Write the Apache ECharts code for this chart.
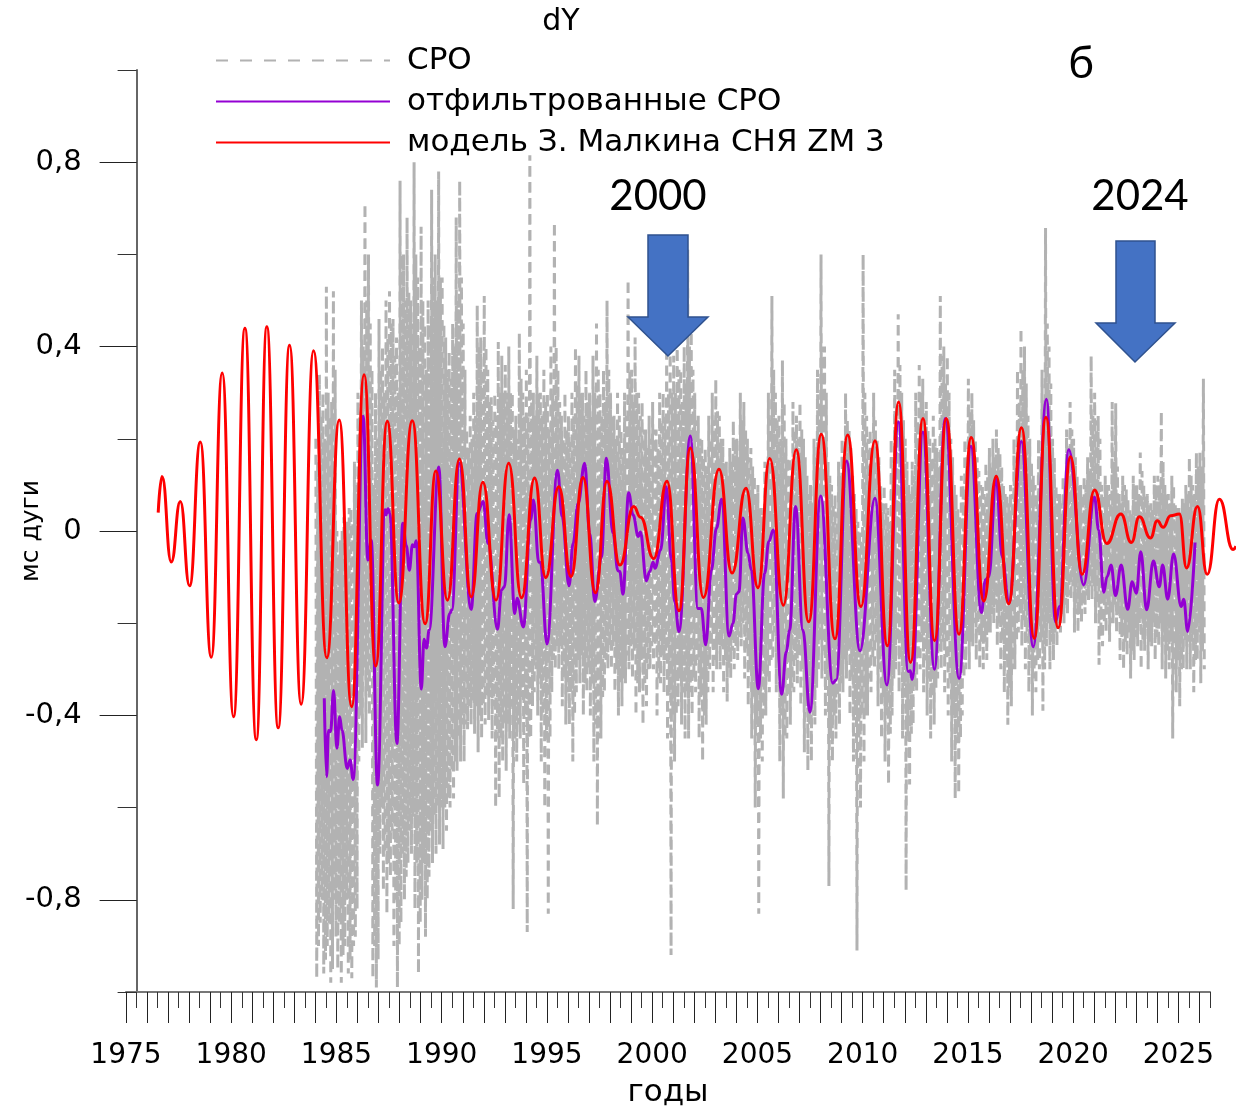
<!DOCTYPE html>
<html><head><meta charset="utf-8">
<style>html,body{margin:0;padding:0;background:#fff}#c{width:1236px;height:1107px}</style>
<script src="https://cdn.jsdelivr.net/npm/echarts@6/dist/echarts.min.js"></script>
</head><body><div id="c"></div>
<script>
const seriesNames=['СРО','отфильтрованные СРО','модель З. Малкина СНЯ ZM 3'];
const redYears=[1976.53,1976.71,1977.15,1977.58,1978.02,1978.53,1979.05,1979.57,1980.11,1980.65,1981.19,1981.69,1982.23,1982.77,1983.32,1983.91,1984.54,1985.13,1985.72,1986.31,1986.86,1987.41,1987.96,1988.60,1989.21,1989.72,1990.27,1990.84,1991.40,1991.95,1992.58,1993.18,1993.79,1994.41,1994.94,1995.56,1996.14,1996.71,1997.30,1997.85,1998.46,1999.12,1999.44,2000.07,2000.70,2001.27,2001.81,2002.43,2003.17,2003.79,2004.45,2005.02,2005.58,2006.23,2006.84,2007.43,2008.03,2008.68,2009.28,2009.91,2010.58,2011.17,2011.70,2012.27,2012.86,2013.41,2013.97,2014.57,2015.15,2015.75,2016.34,2016.93,2017.54,2018.15,2018.70,2019.28,2019.87,2020.42,2021.01,2021.59,2022.26,2022.76,2023.14,2023.67,2023.99,2024.27,2024.62,2025.04,2025.38,2025.90,2026.36,2026.94,2027.59,2027.73];
const redValues=[0.040,0.118,-0.067,0.064,-0.119,0.193,-0.274,0.343,-0.403,0.440,-0.453,0.443,-0.427,0.403,-0.376,0.391,-0.275,0.241,-0.381,0.339,-0.293,0.238,-0.156,0.239,-0.201,0.130,-0.150,0.156,-0.143,0.106,-0.150,0.147,-0.145,0.115,-0.101,0.096,-0.099,0.116,-0.134,0.108,-0.074,0.053,0.030,-0.060,0.108,-0.173,0.180,-0.144,0.134,-0.091,0.093,-0.123,0.157,-0.161,0.176,-0.197,0.210,-0.234,0.208,-0.164,0.196,-0.249,0.280,-0.285,0.244,-0.238,0.244,-0.224,0.203,-0.152,0.119,-0.158,0.224,-0.233,0.247,-0.210,0.161,-0.094,0.089,-0.027,0.037,-0.025,0.031,-0.015,0.022,0.008,0.033,0.037,-0.080,0.053,-0.094,0.069,-0.040,-0.033];
const purpleYears=[1984.42,1984.53,1984.62,1984.72,1984.86,1985.02,1985.15,1985.26,1985.51,1985.65,1985.79,1986.27,1986.49,1986.65,1986.95,1987.31,1987.35,1987.45,1987.54,1987.87,1988.15,1988.32,1988.46,1988.61,1988.70,1988.79,1989.03,1989.16,1989.28,1989.40,1989.86,1990.15,1990.38,1990.48,1990.83,1991.40,1991.68,1991.97,1992.20,1992.65,1992.84,1992.98,1993.20,1993.47,1993.58,1993.88,1994.22,1994.36,1994.61,1994.69,1995.00,1995.50,1995.72,1996.05,1996.24,1996.48,1996.79,1997.03,1997.27,1997.59,1997.82,1998.14,1998.37,1998.46,1998.61,1998.88,1999.09,1999.34,1999.44,1999.72,1999.88,2000.04,2000.13,2000.40,2000.67,2000.91,2001.07,2001.27,2001.81,2002.17,2002.33,2002.54,2002.81,2003.05,2003.30,2003.65,2003.84,2004.00,2004.12,2004.31,2004.55,2004.71,2005.04,2005.34,2005.54,2005.75,2006.15,2006.37,2006.53,2006.81,2007.16,2007.49,2008.00,2008.58,2008.74,2009.23,2009.87,2010.58,2011.15,2011.70,2012.16,2012.26,2012.35,2012.86,2013.41,2013.92,2014.58,2015.14,2015.64,2015.83,2015.99,2016.34,2016.63,2016.94,2017.54,2018.10,2018.73,2019.16,2019.35,2019.79,2020.50,2021.01,2021.21,2021.45,2021.61,2021.80,2022.01,2022.28,2022.59,2022.80,2023.00,2023.21,2023.49,2023.81,2024.09,2024.25,2024.49,2024.77,2025.13,2025.25,2025.44,2025.79];
const purpleValues=[-0.363,-0.533,-0.433,-0.435,-0.346,-0.471,-0.403,-0.432,-0.515,-0.497,-0.539,0.249,-0.063,-0.020,-0.551,0.046,0.035,0.048,0.038,-0.461,0.017,-0.032,-0.085,-0.030,-0.034,-0.021,-0.343,-0.235,-0.254,-0.215,0.139,-0.251,-0.179,-0.171,0.147,-0.170,0.038,0.064,-0.027,-0.213,-0.128,-0.121,0.035,-0.179,-0.146,-0.208,0.024,0.067,-0.068,-0.068,-0.245,0.132,0.031,-0.119,-0.027,0.060,0.147,-0.005,-0.153,-0.056,0.158,-0.005,-0.086,-0.088,-0.137,0.083,0.035,-0.012,-0.002,-0.108,-0.088,-0.068,-0.081,-0.041,0.096,-0.063,-0.153,-0.218,0.206,-0.168,-0.168,-0.247,-0.085,0.006,0.069,-0.228,-0.200,-0.137,-0.132,0.028,-0.048,-0.085,-0.342,-0.092,-0.023,0.002,-0.354,-0.262,-0.215,0.053,-0.215,-0.393,0.076,-0.330,-0.323,0.152,-0.260,0.071,-0.334,0.237,-0.305,-0.303,-0.322,0.215,-0.300,0.244,-0.320,0.184,-0.177,-0.106,-0.099,0.114,-0.056,-0.157,0.194,-0.251,0.286,-0.197,-0.164,0.176,-0.117,0.074,0.002,-0.133,-0.099,-0.074,-0.140,-0.074,-0.170,-0.110,-0.135,-0.045,-0.171,-0.065,-0.121,-0.074,-0.148,-0.050,-0.164,-0.148,-0.218,-0.025];
const cpoStart=1984.02;
const cpoSamplesPerYear=24;
const cpoOuter=[
0.2,-0.97,0.34,-0.85,0.3,-0.96,0.53,-0.9,0.25,-0.98,0.52,-0.8,
0.0,-0.95,-0.02,-0.98,0.03,-0.9,0.02,-0.96,0.05,-0.97,0.15,-0.88,
0.3,-0.5,0.5,-0.47,0.71,-0.46,0.6,-0.4,0.35,-0.97,0.3,-0.99,
0.46,-0.7,0.4,-0.78,0.5,-0.83,0.52,-0.75,0.46,-0.9,0.42,-0.99,
0.76,-0.85,0.6,-0.8,0.68,-0.72,0.5,-0.7,0.8,-0.82,0.55,-0.96,
0.66,-0.8,0.45,-0.88,0.5,-0.75,0.74,-0.72,0.6,-0.7,0.78,-0.68,
0.55,-0.69,0.42,-0.65,0.39,-0.6,0.45,-0.58,0.68,-0.52,0.76,-0.5,
0.45,-0.5,0.22,-0.43,0.25,-0.42,0.3,-0.44,0.49,-0.48,0.42,-0.45,
0.51,-0.42,0.35,-0.41,0.29,-0.45,0.3,-0.6,0.41,-0.58,0.38,-0.5,
0.36,-0.52,0.4,-0.45,0.3,-0.82,0.25,-0.5,0.43,-0.45,0.3,-0.55,
0.35,-0.87,0.815,-0.45,0.3,-0.35,0.38,-0.4,0.3,-0.5,0.35,-0.6,
0.3,-0.83,0.4,-0.35,0.67,-0.3,0.35,-0.3,0.25,-0.38,0.3,-0.42,
0.25,-0.42,0.3,-0.5,0.4,-0.35,0.38,-0.33,0.3,-0.4,0.35,-0.35,
0.3,-0.4,0.38,-0.5,0.45,-0.64,0.3,-0.45,0.35,-0.35,0.5,-0.3,
0.3,-0.3,0.25,-0.35,0.3,-0.4,0.22,-0.38,0.3,-0.33,0.545,-0.3,
0.35,-0.32,0.42,-0.4,0.3,-0.35,0.28,-0.42,0.22,-0.38,0.25,-0.3,
0.28,-0.3,0.22,-0.4,0.3,-0.33,0.3,-0.35,0.4,-0.45,0.42,-0.92,
0.38,-0.5,0.45,-0.38,0.35,-0.42,0.4,-0.45,0.61,-0.45,0.45,-0.4,
0.3,-0.35,0.25,-0.45,0.2,-0.5,0.18,-0.42,0.25,-0.3,0.3,-0.35,
0.33,-0.3,0.25,-0.3,0.2,-0.35,0.15,-0.37,0.18,-0.32,0.24,-0.3,
0.2,-0.28,0.3,-0.25,0.28,-0.32,0.2,-0.38,0.18,-0.45,0.12,-0.6,
0.1,-0.83,0.05,-0.5,0.15,-0.4,0.3,-0.35,0.51,-0.28,0.3,-0.35,
0.25,-0.5,0.37,-0.58,0.2,-0.45,0.16,-0.42,0.28,-0.35,0.25,-0.33,
0.28,-0.38,0.2,-0.48,0.12,-0.52,0.1,-0.5,0.2,-0.42,0.35,-0.3,
0.6,-0.32,0.4,-0.4,0.15,-0.77,0.1,-0.5,0.08,-0.45,0.15,-0.42,
0.2,-0.35,0.3,-0.32,0.22,-0.4,0.12,-0.5,0.05,-0.91,0.0,-0.6,
0.6,-0.5,0.25,-0.4,0.22,-0.35,0.3,-0.3,0.2,-0.38,0.1,-0.45,
0.1,-0.5,0.05,-0.55,0.2,-0.4,0.35,-0.3,0.47,-0.35,0.3,-0.45,
0.2,-0.78,0.1,-0.55,0.15,-0.42,0.3,-0.35,0.36,-0.3,0.33,-0.35,
0.28,-0.4,0.2,-0.45,0.25,-0.42,0.18,-0.32,0.51,-0.3,0.4,-0.35,
0.38,-0.4,0.2,-0.5,0.1,-0.58,0.05,-0.57,0.12,-0.4,0.2,-0.3,
0.33,-0.3,0.3,-0.25,0.2,-0.28,0.13,-0.3,0.1,-0.3,0.15,-0.28,
0.18,-0.22,0.2,-0.2,0.22,-0.25,0.17,-0.3,0.1,-0.35,0.08,-0.42,
0.1,-0.38,0.2,-0.3,0.35,-0.22,0.44,-0.25,0.4,-0.3,0.25,-0.35,
0.15,-0.4,0.1,-0.35,0.2,-0.3,0.35,-0.39,0.657,-0.25,0.4,-0.3,
0.2,-0.28,0.1,-0.25,0.08,-0.22,0.12,-0.2,0.22,-0.18,0.28,-0.15,
0.2,-0.22,0.12,-0.22,0.1,-0.2,0.12,-0.18,0.16,-0.15,0.38,-0.15,
0.3,-0.2,0.25,-0.29,0.1,-0.25,0.12,-0.22,0.1,-0.24,0.28,-0.2,
0.277,-0.22,0.08,-0.28,0.12,-0.3,0.09,-0.27,0.05,-0.32,0.12,-0.28,
0.1,-0.25,0.17,-0.3,0.1,-0.26,0.08,-0.3,0.06,-0.25,0.12,-0.28,
0.12,-0.25,0.26,-0.3,0.1,-0.32,0.08,-0.3,0.12,-0.45,0.06,-0.35,
0.05,-0.38,0.07,-0.3,0.1,-0.3,0.16,-0.3,0.1,-0.35,0.17,-0.28,
0.17,-0.33,0.33,-0.3
];
const cpoCore=[
.15,-.9,.25,-.8,.2,-.93,.3,-.85,.28,-.95,.35,-.88,
-.05,-.85,0,-.92,-.03,-.8,.05,-.93,.02,-.9,.1,-.82,
.25,-.4,.4,-.3,.5,-.35,.45,-.3,.1,-.9,.2,-.93,
.35,-.6,.3,-.7,.42,-.72,.45,-.65,.38,-.8,.3,-.9,
.6,-.7,.5,-.75,.52,-.65,.45,-.62,.6,-.72,.4,-.85,
.5,-.72,.35,-.8,.45,-.65,.55,-.62,.5,-.6,.55,-.6,
.45,-.6,.35,-.58,.33,-.52,.4,-.5,.5,-.45,.55,-.42,
.35,-.42,.18,-.38,.2,-.37,.25,-.38,.4,-.4,.35,-.38,
.4,-.36,.28,-.36,.24,-.38,.25,-.45,.3,-.45,.3,-.42,
.3,-.42,.3,-.38,.22,-.45,.2,-.42,.33,-.36,.25,-.4,
.25,-.45,.3,-.38,.25,-.3,.3,-.32,.25,-.4,.28,-.45,
.22,-.45,.3,-.28,.4,-.25,.28,-.25,.2,-.32,.22,-.35,
.2,-.35,.25,-.4,.32,-.28,.3,-.27,.25,-.33,.28,-.3,
.25,-.33,.3,-.42,.35,-.45,.25,-.36,.28,-.28,.35,-.25,
.25,-.25,.2,-.3,.25,-.33,.18,-.32,.25,-.27,.35,-.25,
.28,-.26,.3,-.33,.25,-.28,.22,-.33,.18,-.3,.2,-.25,
.22,-.25,.18,-.32,.24,-.27,.25,-.28,.3,-.35,.3,-.4,
.3,-.4,.35,-.32,.28,-.35,.32,-.35,.4,-.35,.35,-.32,
.24,-.28,.2,-.36,.16,-.4,.14,-.35,.2,-.25,.24,-.28,
.26,-.25,.2,-.25,.15,-.28,.12,-.3,.15,-.26,.2,-.25,
.16,-.23,.24,-.2,.22,-.26,.16,-.3,.14,-.36,.08,-.42,
.05,-.45,.02,-.4,.12,-.32,.24,-.28,.35,-.22,.24,-.28,
.2,-.4,.28,-.45,.16,-.36,.12,-.34,.22,-.28,.2,-.27,
.22,-.3,.16,-.38,.08,-.42,.06,-.4,.16,-.34,.28,-.24,
.4,-.26,.3,-.32,.12,-.45,.06,-.4,.04,-.36,.12,-.33,
.16,-.28,.24,-.26,.18,-.32,.08,-.4,.02,-.45,-.02,-.4,
.3,-.4,.2,-.32,.18,-.28,.24,-.24,.16,-.3,.06,-.36,
.06,-.4,.02,-.44,.16,-.32,.28,-.24,.36,-.28,.24,-.36,
.15,-.45,.08,-.44,.12,-.34,.24,-.28,.3,-.24,.26,-.28,
.22,-.32,.16,-.36,.2,-.34,.14,-.26,.38,-.24,.32,-.28,
.3,-.32,.16,-.4,.08,-.46,.03,-.45,.1,-.32,.16,-.24,
.26,-.24,.24,-.2,.16,-.22,.1,-.24,.08,-.24,.12,-.22,
.14,-.18,.16,-.16,.18,-.2,.14,-.24,.08,-.28,.06,-.34,
.08,-.3,.16,-.24,.28,-.18,.35,-.2,.32,-.24,.2,-.28,
.12,-.32,.08,-.28,.16,-.24,.28,-.3,.45,-.2,.32,-.24,
.16,-.22,.08,-.2,.06,-.18,.1,-.16,.18,-.14,.22,-.12,
.16,-.18,.1,-.18,.08,-.16,.1,-.14,.13,-.12,.25,-.12,
.24,-.16,.2,-.23,.08,-.2,.1,-.18,.08,-.2,.15,-.16,
.14,-.18,.06,-.23,.1,-.24,.07,-.22,.04,-.26,.1,-.23,
.08,-.2,.13,-.24,.08,-.21,.06,-.24,.05,-.2,.1,-.23,
.1,-.2,.15,-.24,.08,-.26,.06,-.24,.1,-.3,.05,-.28,
.04,-.3,.06,-.24,.08,-.24,.12,-.24,.08,-.28,.14,-.22,
.14,-.26
];
const majorYears=[1975,1976,1977,1978,1979,1980,1981,1982,1983,1984,1985,1986,1987,1988,1989,1990,1991,1992,1993,1994,1995,1996,1997,1998,1999,2000,2001,2002,2003,2004,2005,2006,2007,2008,2009,2010,2011,2012,2013,2014,2015,2016,2017,2018,2019,2020,2021,2022,2023,2024,2025,2026];
const minorYears=[1975.5,1976.5,1977.5,1978.5,1979.5,1980.5,1981.5,1982.5,1983.5,1984.5,1985.5,1986.5,1987.5,1988.5,1989.5,1990.5,1991.5,1992.5,1993.5,1994.5,1995.5,1996.5,1997.5,1998.5,1999.5,2000.5,2001.5,2002.5,2003.5,2004.5,2005.5,2006.5,2007.5,2008.5,2009.5,2010.5,2011.5,2012.5,2013.5,2014.5,2015.5,2016.5,2017.5,2018.5,2019.5,2020.5,2021.5,2022.5,2023.5,2024.5,2025.5,2026.5];
const labelYears=[1975,1980,1985,1990,1995,2000,2005,2010,2015,2020,2025];
const yMajor=[-0.8,-0.4,0,0.4,0.8];

const FONT='DejaVu Sans';
const zip=(a,b)=>a.map((v,i)=>[v,b[i]]);
const cpoMerged=[];
for(let i=0;i<cpoOuter.length;i+=2){
  cpoMerged.push(cpoOuter[i],cpoOuter[i+1],cpoCore[i],cpoCore[i+1]);
}
const cpoData=cpoMerged.map((v,i)=>[cpoStart+i/cpoSamplesPerYear,v]);
const chart=echarts.init(document.getElementById('c'),null,{renderer:'canvas'});
const arrow=(pts)=>({type:'polygon',z:50,shape:{points:pts},style:{fill:'#4472C4',stroke:'#2F528F',lineWidth:1.5}});
chart.setOption({
 animation:false,backgroundColor:'#fff',
 title:{text:'dY',left:556,top:2,textAlign:'center',textStyle:{fontFamily:FONT,fontSize:30,fontWeight:'normal',color:'#000'}},
 legend:{left:210,top:40,orient:'vertical',selectedMode:false,itemWidth:174,itemHeight:14,itemGap:10,
  itemStyle:{opacity:0},
  data:[{name:seriesNames[0],lineStyle:{type:[12,12],width:2,color:'#B2B2B2'}},{name:seriesNames[1]},{name:seriesNames[2]}],
  textStyle:{fontFamily:FONT,fontSize:31,color:'#000',padding:[2,0,0,12]}},
 grid:[
  {left:126,right:26,top:70,bottom:115,containLabel:false,outerBoundsMode:'none'},
  {left:126,right:0,top:70,bottom:115,containLabel:false,outerBoundsMode:'none'}
 ],
 xAxis:[
  {gridIndex:0,type:'value',min:1975,max:2026.5,interval:1,position:'bottom',
   axisLine:{onZero:false,show:true,lineStyle:{color:'#777',width:2}},
   axisTick:{show:true,length:31,customValues:majorYears,lineStyle:{color:'#222',width:1}},
   axisLabel:{show:true,customValues:labelYears,hideOverlap:false,showMinLabel:true,showMaxLabel:true,margin:50,fontFamily:FONT,fontSize:28,color:'#000',formatter:v=>String(v)},
   splitLine:{show:false},
   name:'годы',nameLocation:'middle',nameGap:85,nameTextStyle:{fontFamily:FONT,fontSize:31,color:'#000'}},
  {gridIndex:0,type:'value',min:1975,max:2026.5,interval:1,position:'bottom',
   axisLine:{onZero:false,show:false},
   axisTick:{show:true,length:16,customValues:minorYears,lineStyle:{color:'#333',width:1}},
   axisLabel:{show:false},splitLine:{show:false}},
  {gridIndex:1,type:'value',min:1975,max:2027.73,show:false}
 ],
 yAxis:[
  {gridIndex:0,type:'value',min:-1,max:1,interval:0.2,position:'left',offset:-10.6,
   axisLine:{onZero:false,show:true,lineStyle:{color:'#666',width:2}},
   axisTick:{show:true,length:19,lineStyle:{color:'#333',width:1}},
   axisLabel:{show:false},splitLine:{show:false},
   name:'мс дуги',nameLocation:'middle',nameGap:93,nameRotate:90,nameTextStyle:{fontFamily:FONT,fontSize:25,color:'#000'}},
  {gridIndex:0,type:'value',min:-1,max:1,interval:0.2,position:'left',offset:-10.6,
   axisLine:{onZero:false,show:false},
   axisTick:{show:true,length:37,customValues:yMajor,lineStyle:{color:'#222',width:1}},
   axisLabel:{show:true,customValues:yMajor,margin:55,padding:[3,0,0,0],fontFamily:FONT,fontSize:29,color:'#000',
     formatter:v=>v===0?'0':v.toFixed(1).replace('.',',')},
   splitLine:{show:false}},
  {gridIndex:1,type:'value',min:-1,max:1,show:false}
 ],
 series:[
  {name:seriesNames[0],type:'line',clip:false,showSymbol:false,symbol:'none',data:cpoData,z:2,
   lineStyle:{color:'#B2B2B2',width:3,type:[10,6]},itemStyle:{color:'#B2B2B2'}},
  {name:seriesNames[1],type:'line',clip:false,showSymbol:false,symbol:'none',smooth:0.4,smoothMonotone:'x',data:zip(purpleYears,purpleValues),z:3,
   lineStyle:{color:'#9400D3',width:3},itemStyle:{color:'#9400D3'}},
  {name:seriesNames[2],type:'line',xAxisIndex:2,yAxisIndex:2,showSymbol:false,symbol:'none',smooth:0.5,smoothMonotone:'x',data:zip(redYears,redValues),z:4,
   lineStyle:{color:'#FF0000',width:3},itemStyle:{color:'#FF0000'}}
 ],
 graphic:[
  arrow([[648,235],[688,235],[688,317],[708,317],[668,356],[628,317],[648,317]]),
  arrow([[1116,241],[1155,241],[1155,323],[1175,323],[1135,362],[1096,323],[1116,323]]),
  {type:'text',z:50,x:658,y:196,style:{text:'2000',font:'42px Lato',fill:'#000',align:'center',verticalAlign:'middle'}},
  {type:'text',z:50,x:1140,y:196,style:{text:'2024',font:'42px Lato',fill:'#000',align:'center',verticalAlign:'middle'}},
  {type:'text',z:50,x:1081,y:64,style:{text:'б',font:'44px Lato, "Open Sans"',fill:'#000',align:'center',verticalAlign:'middle'}}
 ]
});
</script></body></html>
